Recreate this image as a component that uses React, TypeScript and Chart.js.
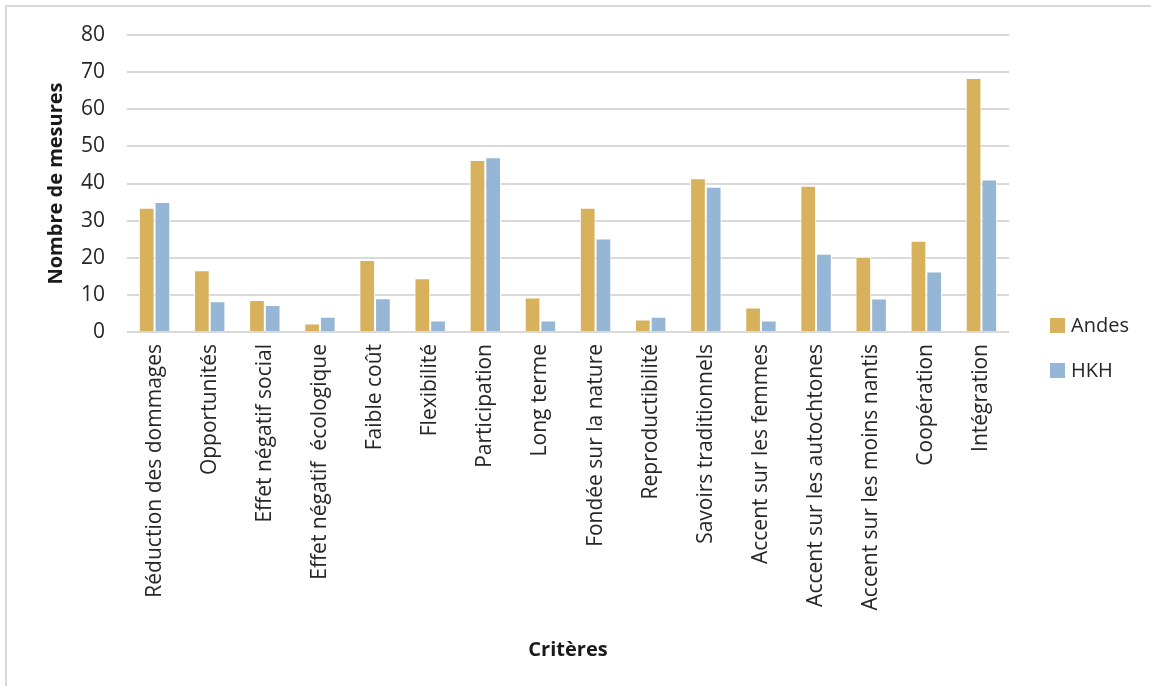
import React, { useEffect, useRef } from "react";
import { Chart, registerables } from "chart.js";

Chart.register(...registerables);

const categories = [
  "Réduction des dommages",
  "Opportunités",
  "Effet négatif social",
  "Effet négatif  écologique",
  "Faible coût",
  "Flexibilité",
  "Participation",
  "Long terme",
  "Fondée sur la nature",
  "Reproductibilité",
  "Savoirs traditionnels",
  "Accent sur les femmes",
  "Accent sur les autochtones",
  "Accent sur les moins nantis",
  "Coopération",
  "Intégration",
];

const andes = [33.5, 16.6, 8.6, 2.3, 19.4, 14.5, 46.3, 9.3, 33.5, 3.4, 41.4, 6.6, 39.4, 20.3, 24.6, 68.4];
const hkh = [35, 8.3, 7.3, 4.1, 9.1, 3.1, 47.1, 3.1, 25.2, 4.1, 39.1, 3.1, 21.1, 9.0, 16.3, 41.1];

const seriesNames = ["Andes", "HKH"];
const seriesColors = ["#d8b15c", "#95b6d4"];

const yTitle = "Nombre de mesures";
const xTitle = "Critères";

const FONT = "'Open Sans', 'DejaVu Sans', sans-serif";
const TEXT = "#262626";

const legendPlugin = {
  id: "customLegend",
  afterDraw(chart: any) {
    const { ctx, chartArea } = chart;
    const x = chartArea.right + 41;
    const baseY = chart.height / 2 - 18;
    const spacing = 45;
    ctx.save();
    ctx.font = `20px ${FONT}`;
    ctx.textBaseline = "middle";
    ctx.textAlign = "left";
    chart.data.datasets.forEach((ds: any, i: number) => {
      const cy = baseY + i * spacing;
      ctx.fillStyle = ds.backgroundColor;
      ctx.fillRect(x, cy - 7, 15, 15);
      ctx.fillStyle = TEXT;
      ctx.fillText(ds.label, x + 21, cy + 1);
    });
    ctx.restore();
  },
};

export default function App() {
  const canvasRef = useRef<HTMLCanvasElement | null>(null);

  useEffect(() => {
    if (!canvasRef.current) return;
    const chart = new Chart(canvasRef.current, {
      type: "bar",
      data: {
        labels: categories,
        datasets: [
          {
            label: seriesNames[0],
            data: andes,
            backgroundColor: seriesColors[0],
            borderColor: "#ffffff",
            borderWidth: 1,
            categoryPercentage: 0.57,
            barPercentage: 1,
          },
          {
            label: seriesNames[1],
            data: hkh,
            backgroundColor: seriesColors[1],
            borderColor: "#ffffff",
            borderWidth: 1,
            categoryPercentage: 0.57,
            barPercentage: 1,
          },
        ],
      },
      options: {
        responsive: false,
        animation: false,
        devicePixelRatio: 1,
        layout: { padding: { top: 35, left: 0, right: 142, bottom: 0 } },
        plugins: {
          legend: { display: false },
          tooltip: { enabled: false },
        },
        scales: {
          x: {
            grid: { display: false, drawTicks: false },
            border: { display: false },
            ticks: {
              autoSkip: false,
              minRotation: 90,
              maxRotation: 90,
              padding: 12,
              color: TEXT,
              font: { family: FONT, size: 21 },
            },
            title: {
              display: true,
              text: xTitle,
              color: "#1a1a1a",
              font: { family: FONT, size: 20, weight: "bold" },
              padding: { top: 0, bottom: 24 },
            },
            afterFit: (scale: any) => {
              scale.height = 354;
            },
          },
          y: {
            min: 0,
            max: 80,
            grid: { color: "#d9d9d9", lineWidth: 2, drawTicks: false },
            border: { display: false },
            ticks: {
              stepSize: 10,
              padding: 22,
              color: TEXT,
              font: { family: FONT, size: 21 },
            },
            title: {
              display: true,
              text: yTitle,
              color: "#1a1a1a",
              font: { family: FONT, size: 20, weight: "bold" },
              padding: { top: 44, bottom: 0 },
            },
            afterFit: (scale: any) => {
              scale.width = 127;
            },
          },
        },
      },
      plugins: [legendPlugin],
    });
    return () => chart.destroy();
  }, []);

  return (
    <div style={{ position: "fixed", left: 0, top: 0, width: 1151, height: 686, background: "#ffffff" }}>
      <canvas ref={canvasRef} width={1151} height={686} style={{ position: "absolute", left: 0, top: 0 }} />
      <div
        style={{
          position: "absolute",
          left: 5,
          top: 5,
          width: 1151,
          height: 686,
          borderLeft: "2px solid #d9d9d9",
          borderTop: "2px solid #d9d9d9",
          pointerEvents: "none",
        }}
      />
    </div>
  );
}
